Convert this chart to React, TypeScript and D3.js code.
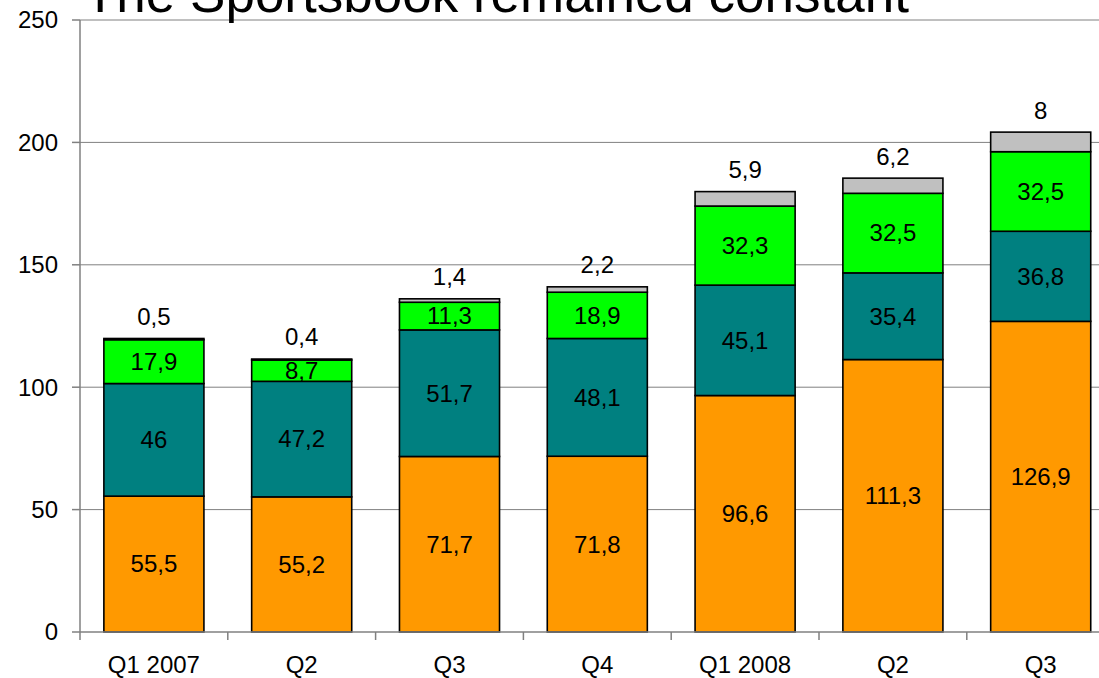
import React, { useEffect, useRef } from 'react';
import * as d3 from 'd3';

const categories = ['Q1 2007', 'Q2', 'Q3', 'Q4', 'Q1 2008', 'Q2 ', 'Q3 '];
const seriesA = [55.5, 55.2, 71.7, 71.8, 96.6, 111.3, 126.9];
const seriesB = [46, 47.2, 51.7, 48.1, 45.1, 35.4, 36.8];
const seriesC = [17.9, 8.7, 11.3, 18.9, 32.3, 32.5, 32.5];
const seriesD = [0.5, 0.4, 1.4, 2.2, 5.9, 6.2, 8];
const seriesKeys = ['a', 'b', 'c', 'd'];
const seriesColors = ['#FF9900', '#008080', '#00FF00', '#C0C0C0'];
const yTicks = [0, 50, 100, 150, 200, 250];
const title = 'The Sportsbook remained constant';

const fmt = (v: number) => String(v).replace('.', ',');

const App: React.FC = () => {
  const svgRef = useRef<SVGSVGElement>(null);

  useEffect(() => {
    document.body.style.margin = '0';
    if (!svgRef.current) return;
    const svg = d3.select(svgRef.current);
    svg.selectAll('*').remove();

    const width = 1099;
    const height = 678;
    const left = 80;
    const step = 147.8;
    const font = 'Liberation Sans, Arial, sans-serif';
    const fs = '24px';

    const x = d3.scaleBand<string>()
      .domain(categories)
      .range([left, left + step * categories.length])
      .paddingInner(0.323)
      .paddingOuter(0.1615);

    const y = d3.scaleLinear().domain([0, 250]).range([632, 20]);

    svg.attr('width', width).attr('height', height).style('display', 'block');

    // gridlines
    svg.append('g')
      .selectAll('line')
      .data(yTicks.filter(d => d > 0))
      .enter()
      .append('line')
      .attr('x1', left)
      .attr('x2', width)
      .attr('y1', d => y(d))
      .attr('y2', d => y(d))
      .attr('stroke', '#808080')
      .attr('stroke-width', 1);

    // stacked bars
    const rows = categories.map((c, i) => ({
      cat: c,
      a: seriesA[i],
      b: seriesB[i],
      c: seriesC[i],
      d: seriesD[i],
    }));
    const stack = d3.stack<any>().keys(seriesKeys)(rows);

    stack.forEach((layer, li) => {
      svg.append('g')
        .selectAll('rect')
        .data(layer)
        .enter()
        .append('rect')
        .attr('x', d => x(d.data.cat)!)
        .attr('y', d => y(d[1]))
        .attr('width', x.bandwidth())
        .attr('height', d => y(d[0]) - y(d[1]))
        .attr('fill', seriesColors[li])
        .attr('stroke', '#000')
        .attr('stroke-width', 1.6);
    });

    // labels inside segments
    stack.slice(0, 3).forEach((layer, li) => {
      svg.append('g')
        .selectAll('text')
        .data(layer)
        .enter()
        .append('text')
        .attr('x', d => x(d.data.cat)! + x.bandwidth() / 2)
        .attr('y', d => y((d[0] + d[1]) / 2))
        .attr('dy', '0.35em')
        .attr('text-anchor', 'middle')
        .style('font-family', font)
        .style('font-size', fs)
        .attr('fill', '#000')
        .text(d => fmt(d.data[seriesKeys[li]]));
    });

    // top labels above bars
    svg.append('g')
      .selectAll('text')
      .data(stack[3])
      .enter()
      .append('text')
      .attr('x', d => x(d.data.cat)! + x.bandwidth() / 2)
      .attr('y', d => y(d[1]) - 22)
      .attr('dy', '0.35em')
      .attr('text-anchor', 'middle')
      .style('font-family', font)
      .style('font-size', fs)
      .attr('fill', '#000')
      .text(d => fmt(d.data.d));

    // y axis
    const yAxis = svg.append('g');
    yAxis.append('line')
      .attr('x1', left).attr('x2', left)
      .attr('y1', y(250)).attr('y2', y(0))
      .attr('stroke', '#808080').attr('stroke-width', 1.5);
    yAxis.selectAll('line.tick')
      .data(yTicks)
      .enter()
      .append('line')
      .attr('class', 'tick')
      .attr('x1', left - 8).attr('x2', left)
      .attr('y1', d => y(d)).attr('y2', d => y(d))
      .attr('stroke', '#808080').attr('stroke-width', 1.5);
    yAxis.selectAll('text')
      .data(yTicks)
      .enter()
      .append('text')
      .attr('x', 58)
      .attr('y', d => y(d))
      .attr('dy', '0.35em')
      .attr('text-anchor', 'end')
      .style('font-family', font)
      .style('font-size', fs)
      .attr('fill', '#000')
      .text(d => String(d));

    // x axis
    const xAxis = svg.append('g');
    xAxis.append('line')
      .attr('x1', left).attr('x2', width)
      .attr('y1', y(0)).attr('y2', y(0))
      .attr('stroke', '#808080').attr('stroke-width', 1.5);
    xAxis.selectAll('line.tick')
      .data(d3.range(categories.length + 1))
      .enter()
      .append('line')
      .attr('class', 'tick')
      .attr('x1', i => left + i * step).attr('x2', i => left + i * step)
      .attr('y1', y(0)).attr('y2', y(0) + 8)
      .attr('stroke', '#808080').attr('stroke-width', 1.5);
    xAxis.selectAll('text')
      .data(categories)
      .enter()
      .append('text')
      .attr('x', d => x(d)! + x.bandwidth() / 2)
      .attr('y', 665)
      .attr('dy', '0.35em')
      .attr('text-anchor', 'middle')
      .style('font-family', font)
      .style('font-size', fs)
      .attr('fill', '#000')
      .text(d => d.trim());

    // title (cut off at the top like the original)
    svg.append('text')
      .attr('x', 84)
      .attr('y', 12)
      .style('font-family', font)
      .style('font-size', '53px')
      .attr('fill', '#000')
      .text(title);
  }, []);

  return (
    <div>
      <svg ref={svgRef}></svg>
    </div>
  );
};

export default App;
